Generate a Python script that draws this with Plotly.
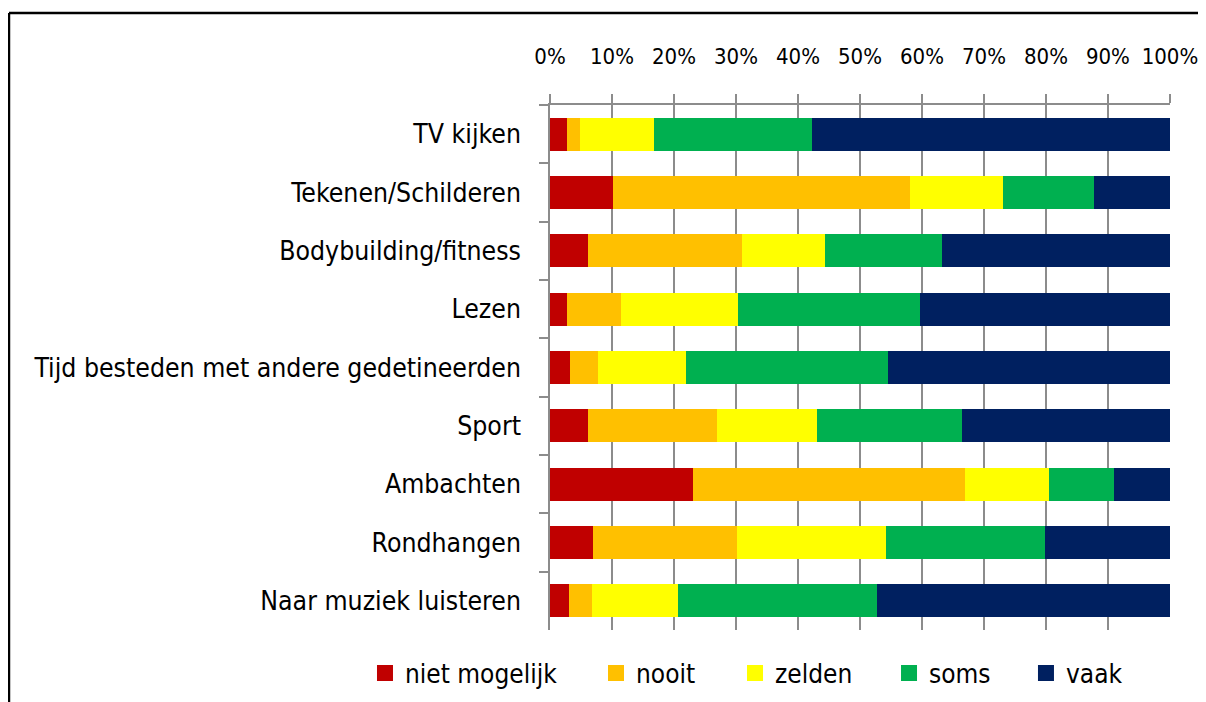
import plotly.graph_objects as go

# categories, top to bottom
activities = [
    "TV kijken",
    "Tekenen/Schilderen",
    "Bodybuilding/fitness",
    "Lezen",
    "Tijd besteden met andere gedetineerden",
    "Sport",
    "Ambachten",
    "Rondhangen",
    "Naar muziek luisteren",
]

# shares in % per answer
niet_mogelijk = [2.7, 10.1, 6.2, 2.7, 3.3, 6.2, 23.1, 6.9, 3.1]
nooit = [2.1, 48.0, 24.7, 8.7, 4.5, 20.8, 43.9, 23.2, 3.6]
zelden = [12.0, 14.9, 13.4, 19.0, 14.2, 16.0, 13.5, 24.1, 13.9]
soms = [25.4, 14.8, 19.0, 29.3, 32.6, 23.4, 10.5, 25.6, 32.2]
vaak = [57.8, 12.2, 36.7, 40.3, 45.4, 33.6, 9.0, 20.2, 47.2]

tick_vals = [0, 10, 20, 30, 40, 50, 60, 70, 80, 90, 100]
tick_labels = ["0%", "10%", "20%", "30%", "40%", "50%", "60%", "70%", "80%", "90%", "100%"]

series = [
    ("niet mogelijk", niet_mogelijk, "#C00000"),
    ("nooit", nooit, "#FFC000"),
    ("zelden", zelden, "#FFFF00"),
    ("soms", soms, "#00B050"),
    ("vaak", vaak, "#002060"),
]

FONT = "Liberation Sans Narrow, Arial Narrow, DejaVu Sans Condensed, Roboto Condensed, sans-serif"
GRID = "#8c8c8c"

# one small legend per series so the entries can be spaced like the original
legend_x = [-0.2984, 0.0742, 0.2984, 0.5468, 0.7677]

fig = go.Figure()
legends = {}
for i, (name, vals, color) in enumerate(series):
    lg = "legend" if i == 0 else f"legend{i + 1}"
    fig.add_trace(go.Bar(
        y=activities, x=vals, name=name, orientation="h",
        marker=dict(color=color, line=dict(width=0)),
        showlegend=False,
    ))
    fig.add_trace(go.Scatter(
        x=[None], y=[None], mode="markers", name=name, legend=lg,
        marker=dict(symbol="square", size=16, color=color),
    ))
    legends[lg] = dict(
        orientation="h", x=legend_x[i], xanchor="left", y=-0.082, yanchor="middle",
        font=dict(size=26), itemwidth=30, bgcolor="rgba(0,0,0,0)",
    )

fig.update_layout(
    barmode="stack",
    bargap=0.43,
    width=1198, height=694,
    margin=dict(l=542, r=36, t=97, b=72, autoexpand=False),
    paper_bgcolor="white", plot_bgcolor="white",
    font=dict(family=FONT, size=26.4, color="#000000"),
    shapes=[
        # outer chart frame (left and top edges visible)
        dict(type="line", xref="paper", yref="paper", x0=-0.8726, x1=-0.8726,
             y0=-0.3, y1=1.1752, line=dict(color="black", width=2.5)),
        dict(type="line", xref="paper", yref="paper", x0=-0.8726, x1=1.2,
             y0=1.1752, y1=1.1752, line=dict(color="black", width=2.5)),
    ],
    **legends,
)

fig.update_xaxes(
    side="top", range=[0, 100.01], tickvals=tick_vals, ticktext=tick_labels,
    tickangle=0, tickfont=dict(size=22),
    showgrid=True, gridcolor=GRID, gridwidth=1.5,
    showline=True, linecolor=GRID, linewidth=1.5,
    ticks="outside", ticklen=9, tickcolor=GRID, tickwidth=1.5,
    zeroline=False, ticklabelstandoff=21, automargin=False,
    ticklabeloverflow="allow",
)
fig.update_yaxes(
    autorange="reversed", tickson="boundaries",
    showgrid=False, showline=True, linecolor=GRID, linewidth=1.5,
    ticks="outside", ticklen=9, tickcolor=GRID, tickwidth=1.5,
    ticklabelstandoff=22, automargin=False,
)

fig.write_html("out.html")
